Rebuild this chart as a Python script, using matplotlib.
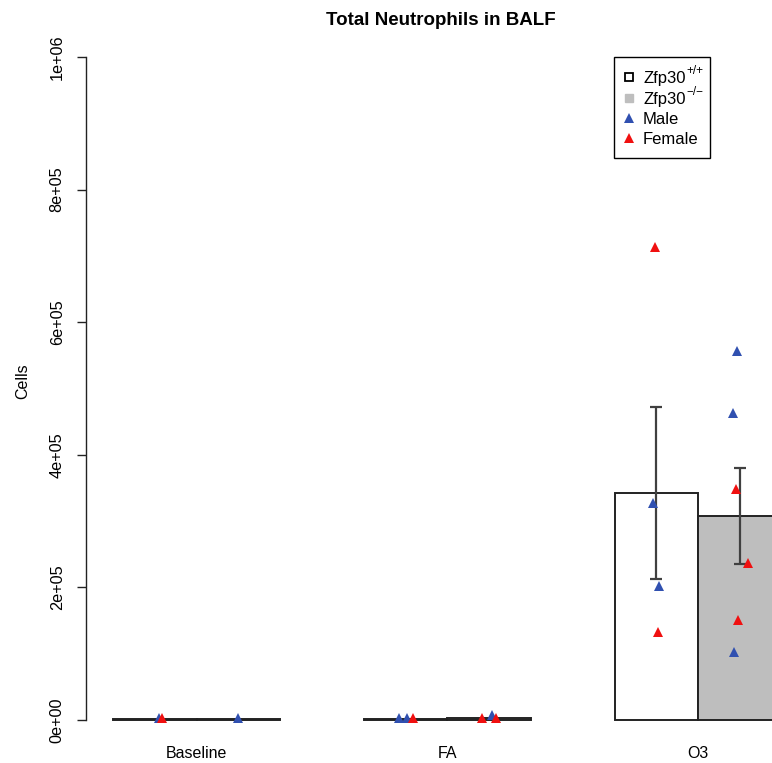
import matplotlib
matplotlib.use("Agg")
import matplotlib.pyplot as plt
from matplotlib.lines import Line2D
from matplotlib.patches import Rectangle
import numpy as np

plt.rcParams['font.family'] = ['Liberation Sans', 'DejaVu Sans']

# ---- data ----
groups = ["Baseline", "FA", "O3"]
wt_mean = [1500, 800, 342400]
ko_mean = [1200, 3000, 307700]
wt_se = [300, 300, 129000]
ko_se = [300, 1500, 72400]

# individual animals: (group index, genotype, sex, value, jitter offset)
pt_group = [0, 0, 0, 1, 1, 1, 1, 1, 1, 2, 2, 2, 2, 2, 2, 2, 2, 2, 2]
pt_geno = ["WT", "WT", "KO", "WT", "WT", "WT", "KO", "KO", "KO",
           "WT", "WT", "WT", "WT", "KO", "KO", "KO", "KO", "KO", "KO"]
pt_sex = ["M", "F", "M", "M", "M", "F", "F", "M", "F",
          "F", "M", "M", "F", "M", "M", "F", "F", "F", "M"]
pt_value = [3200, 2800, 3200, 3500, 3500, 3000, 3500, 7500, 3500,
            713400, 327300, 202100, 132700, 556600, 463000, 348000, 236800, 150800, 102600]
pt_jitter = [0.05, 0.09, -0.005, -0.08, 0.02, 0.09, -0.08, 0.03, 0.08,
             -0.017, -0.044, 0.035, 0.016, -0.032, -0.08, -0.048, 0.092, -0.02, -0.072]

yticks = [0, 200000, 400000, 600000, 800000, 1000000]
ytick_labels = ["0e+00", "2e+05", "4e+05", "6e+05", "8e+05", "1e+06"]

legend_base = ["Zfp30", "Zfp30", "Male", "Female"]
legend_sup = ["+/+", "\u2212/\u2212", "", ""]

sex_color = {"M": "#3050B0", "F": "#F01010"}

# ---- figure ----
W, H = 772, 763
fig = plt.figure(figsize=(W / 100, H / 100), dpi=100)
ax_bottom_px = 746.5
ax = fig.add_axes([86.2 / W, (H - ax_bottom_px) / H, 722.3 / W, (ax_bottom_px - 30.5) / H])

# bar layout like R barplot(beside=TRUE, space=c(0,1))
wt_left = np.array([1, 4, 7])
ko_left = wt_left + 1
wt_center = wt_left + 0.5
ko_center = ko_left + 0.5

ax.bar(wt_left, wt_mean, width=1, align='edge', color='white',
       edgecolor='#222222', linewidth=1.4, zorder=2)
ax.bar(ko_left, ko_mean, width=1, align='edge', color='#BEBEBE',
       edgecolor='#222222', linewidth=1.4, zorder=2)

ax.errorbar(wt_center[2:], wt_mean[2:], yerr=wt_se[2:], fmt='none',
            ecolor='#404040', elinewidth=1.6, capsize=4, capthick=1.6, zorder=3)
ax.errorbar(ko_center[2:], ko_mean[2:], yerr=ko_se[2:], fmt='none',
            ecolor='#404040', elinewidth=1.6, capsize=4, capthick=1.6, zorder=3)

for g, geno, sex, v, j in zip(pt_group, pt_geno, pt_sex, pt_value, pt_jitter):
    cx = wt_center[g] if geno == "WT" else ko_center[g]
    ax.plot(cx + j, v, marker='^', markersize=7.5, color=sex_color[sex],
            linestyle='none', zorder=4, markeredgewidth=0)

ax.set_xlim(0.68, 9.32)
ax.set_ylim(-40000, 1040000)

for s in ['top', 'right', 'bottom']:
    ax.spines[s].set_visible(False)
ax.spines['left'].set_bounds(0, 1000000)
ax.spines['left'].set_linewidth(1.0)
ax.spines['left'].set_color('#222222')
ax.set_xticks([])
ax.set_yticks(yticks)
ax.set_yticklabels(ytick_labels, rotation=90, va='center', fontsize=11.7)
ax.tick_params(axis='y', length=6.5, width=1.0, pad=9, color='#222222')

# group labels (baseline at y=758 px)
ax_h_px = ax_bottom_px - 30.5
lab_y = (ax_bottom_px - 758) / ax_h_px
for i, g in enumerate(groups):
    ax.text(ko_left[i], lab_y, g, transform=ax.get_xaxis_transform(),
            ha='center', va='baseline', fontsize=11.5)

fig.text(23 / W, 1 - 396 / H, "Cells", rotation=90, ha='center', va='baseline', fontsize=11.5)
fig.text(441 / W, 1 - 25 / H, "Total Neutrophils in BALF", ha='center', va='baseline',
         fontsize=13.5, fontweight='bold')

# ---- legend (drawn like R's legend box) ----
def fx(px):
    return px / W

def fy(py):
    return 1 - py / H

fig.add_artist(Rectangle((fx(614), fy(158)), fx(710) - fx(614), fy(57) - fy(158),
                         transform=fig.transFigure, facecolor='white',
                         edgecolor='black', linewidth=1.0, zorder=10))
row_y = [77, 98, 118, 138]
marker_x = 629
text_x = 643
key_styles = [
    dict(marker='s', markerfacecolor='white', markeredgecolor='black',
         markersize=5.5, markeredgewidth=1.3),
    dict(marker='s', markerfacecolor='#BEBEBE', markeredgecolor='#BEBEBE',
         markersize=6),
    dict(marker='^', color=sex_color["M"], markersize=7.5, markeredgewidth=0),
    dict(marker='^', color=sex_color["F"], markersize=7.5, markeredgewidth=0),
]
renderer = fig.canvas.get_renderer()
for yy, base, sup, st in zip(row_y, legend_base, legend_sup, key_styles):
    fig.add_artist(Line2D([fx(marker_x)], [fy(yy)], transform=fig.transFigure,
                          linestyle='none', zorder=11, **st))
    t = fig.text(fx(text_x), fy(yy + 6), base, ha='left', va='baseline',
                 fontsize=12, zorder=11)
    if sup:
        bb = t.get_window_extent(renderer=renderer)
        fig.text(fx(bb.x1 + 1), fy(yy - 3), sup, ha='left', va='baseline',
                 fontsize=8.5, zorder=11)

fig.savefig("out.png", dpi=100)
